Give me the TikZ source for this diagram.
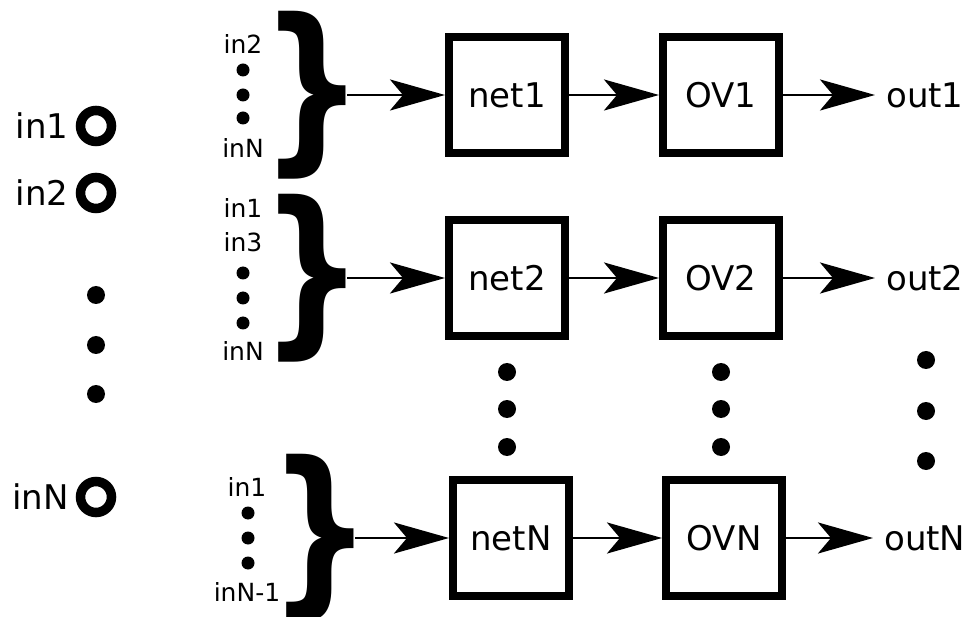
\documentclass[tikz,border=0pt]{standalone}
\usepackage{graphicx}
\usepackage{fontspec}
\setmainfont{DejaVu Sans}
\usetikzlibrary{arrows.meta,positioning}

\newcommand{\groupbrace}{\scalebox{0.8}[1]{\bfseries\}}}

\begin{document}
\begin{tikzpicture}[
  x=1pt, y=-1pt,
  font=\fontsize{34}{40}\selectfont,
  node distance=8pt,
  box/.style={draw, line width=8pt, minimum width=116pt, minimum height=116pt, inner sep=0pt},
  flow/.style={-{Stealth[length=55pt, width=31pt, inset=13pt]}, line width=2.8pt},
  small/.style={font=\fontsize{25}{28}\selectfont, inner sep=0pt},
  brace/.style={font=\fontsize{182}{182}\selectfont, inner sep=0pt},
  port/.style={circle, draw, line width=9.5pt, minimum size=31pt, inner sep=0pt},
  outlbl/.style={anchor=west, inner sep=0pt, inner xsep=11pt},
  dot/.style={circle, fill, minimum size=#1, inner sep=0pt},
  dot/.default=18pt,
]
\useasboundingbox (0,0) rectangle (977,617);

% input ports
\node[port] (p1) at (96,126) {};
\node[port] (p2) at (96,193) {};
\node[port] (pN) at (96,497) {};
\node[left=7pt of p1, inner sep=0pt] {in1};
\node[left=7pt of p2, inner sep=0pt] {in2};
\node[left=7pt of pN, inner sep=0pt] {inN};
\foreach \y in {295,345,394}
  \node[dot] at (96,\y) {};

% input groups
\node[small] at (243,44) {in2};
\foreach \y in {70,95,118}
  \node[dot=13pt] at (243,\y) {};
\node[small] at (243,148) {inN};
\node[brace] (br1) at (312,95) {\groupbrace};

\node[small] at (243,208) {in1};
\node[small] at (243,242) {in3};
\foreach \y in {273,298,323}
  \node[dot=13pt] at (243,\y) {};
\node[small] at (243,351) {inN};
\node[brace] (br2) at (312,278) {\groupbrace};

\node[small] at (247,487) {in1};
\foreach \y in {513,538,563}
  \node[dot=13pt] at (248,\y) {};
\node[small] at (247,592) {inN-1};
\node[brace] (br3) at (320,538) {\groupbrace};

% nets and OV blocks
\node[box] (net1) at (507,95) {net1};
\node[box] (ov1) at (721,95) {OV1};
\node[box] (net2) at (507,278) {net2};
\node[box] (ov2) at (721,278) {OV2};
\node[box] (netN) at (511,538) {netN};
\node[box] (ovN) at (724,538) {OVN};

\node[outlbl] (out1) at (875,95) {out1};
\node[outlbl] (out2) at (875,278) {out2};
\node[outlbl] (outN) at (873,538) {outN};

\foreach \y in {372,409,447} {
  \node[dot] at (507,\y) {};
  \node[dot] at (721,\y) {};
}
\foreach \y in {360,411,461}
  \node[dot] at (926,\y) {};

\draw[flow] ([xshift=-17pt]br1.east) -- (net1);
\draw[flow] (net1) -- (ov1);
\draw[flow] (ov1) -- (out1);
\draw[flow] ([xshift=-17pt]br2.east) -- (net2);
\draw[flow] (net2) -- (ov2);
\draw[flow] (ov2) -- (out2);
\draw[flow] ([xshift=-17pt]br3.east) -- (netN);
\draw[flow] (netN) -- (ovN);
\draw[flow] (ovN) -- (outN);
\end{tikzpicture}
\end{document}
